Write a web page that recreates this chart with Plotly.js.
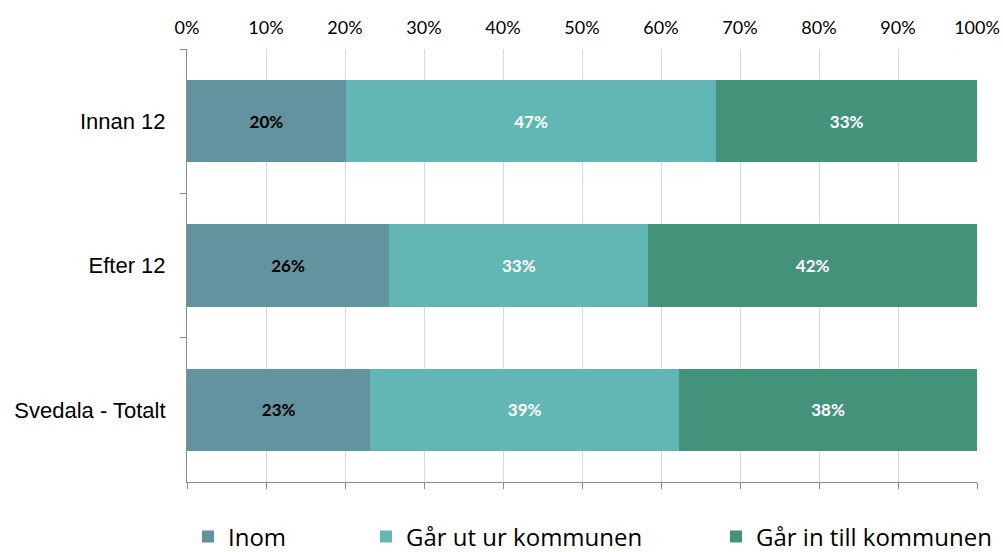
<!DOCTYPE html>
<html><head><meta charset="utf-8">
<script src="https://cdn.plot.ly/plotly-3.0.1.min.js"></script>
<style>body{margin:0;background:#fff}</style>
</head><body><div id="chart" style="width:1003px;height:552px"></div>
<script>
const categories = ["Innan 12", "Efter 12", "Svedala - Totalt"];
const seriesNames = ["Inom", "Går ut ur kommunen", "Går in till kommunen"];
const inom = [20.1, 25.6, 23.2];
const garUt = [46.9, 32.8, 39.1];
const garIn = [33.0, 41.6, 37.7];
const tickVals = [0,10,20,30,40,50,60,70,80,90,100];
const tickText = tickVals.map(v => v + "%");
const colors = ["#62939e", "#62b7b5", "#43927a"];
const textColors = ["#000000", "#ffffff", "#ffffff"];
const values = [inom, garUt, garIn];
const legends = ["legend", "legend2", "legend3"];

const data = values.map((vals, i) => ({
  type: "bar", orientation: "h", name: seriesNames[i],
  x: vals, y: categories,
  marker: {color: colors[i], line: {width: 0}},
  text: vals.map(v => Math.round(v) + "%"),
  textposition: "inside", insidetextanchor: "middle",
  textfont: {family: "Lato, 'Open Sans', sans-serif", size: 17, color: textColors[i], weight: "bold"},
  hoverinfo: "skip", cliponaxis: false,
  legend: legends[i]
}));
data.push({type: "scatter", x: [0, 100], y: [categories[0], categories[0]], xaxis: "x2", mode: "markers",
  marker: {opacity: 0}, showlegend: false, hoverinfo: "skip"});

const legFont = {family: "'Open Sans', sans-serif", size: 24, color: "#000"};
const ly = 1 - 537/552;
const layout = {
  width: 1003, height: 552,
  margin: {l: 187, r: 26, t: 49, b: 70},
  paper_bgcolor: "#fff", plot_bgcolor: "#fff",
  barmode: "stack", bargap: 0.43,
  xaxis: {range: [0, 100], tickvals: tickVals, showticklabels: false,
    showgrid: true, gridcolor: "#d9d9d9", gridwidth: 1, zeroline: false,
    showline: true, linecolor: "#8c8c8c", linewidth: 1, ticks: "outside", ticklen: 6, tickcolor: "#8c8c8c",
    fixedrange: true},
  xaxis2: {overlaying: "x", side: "top", anchor: "y", matches: "x", range: [0, 100],
    tickvals: tickVals, ticktext: tickText, showgrid: false, zeroline: false, showline: false, ticks: "",
    ticklabelstandoff: 10,
    tickfont: {family: "Lato, 'Open Sans', sans-serif", size: 18, color: "#000"}},
  yaxis: {autorange: "reversed", showline: true, linecolor: "#8c8c8c", linewidth: 1,
    ticks: "outside", tickson: "boundaries", ticklen: 6, tickcolor: "#8c8c8c",
    showgrid: false, zeroline: false, ticklabelstandoff: 16,
    tickfont: {family: "'Liberation Sans', Arial, sans-serif", size: 22, color: "#000"}},
  legend: {orientation: "h", xref: "container", yref: "container", x: 188/1003, y: ly,
    xanchor: "left", yanchor: "middle", font: legFont, bgcolor: "rgba(0,0,0,0)"},
  legend2: {orientation: "h", xref: "container", yref: "container", x: 366/1003, y: ly,
    xanchor: "left", yanchor: "middle", font: legFont, bgcolor: "rgba(0,0,0,0)"},
  legend3: {orientation: "h", xref: "container", yref: "container", x: 716/1003, y: ly,
    xanchor: "left", yanchor: "middle", font: legFont, bgcolor: "rgba(0,0,0,0)"},
  showlegend: true
};
Plotly.newPlot("chart", data, layout, {displayModeBar: false, staticPlot: true});
</script></body></html>
